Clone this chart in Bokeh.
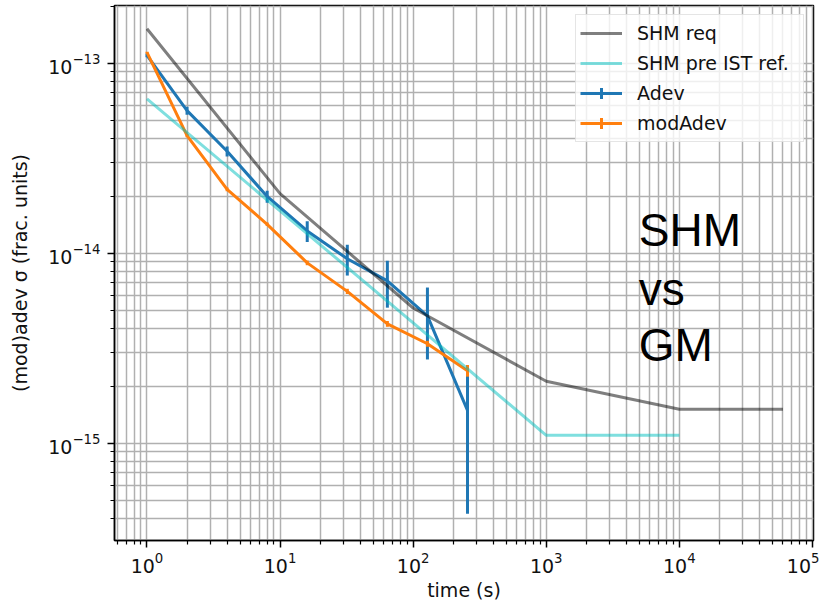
from bokeh.plotting import figure
from bokeh.models import FixedTicker, Legend, LegendItem, Label, Range1d
from bokeh.embed import file_html
from bokeh.resources import INLINE

# ---- data ----
tau = [1, 2, 4, 8, 16, 32, 64, 128, 256]
adev = [1.10e-13, 5.63e-14, 3.44e-14, 1.99e-14, 1.31e-14, 9.35e-15, 7.15e-15, 4.68e-15, 1.49e-15]
adev_err = [2.5e-15, 2.7e-15, 2.1e-15, 1.45e-15, 1.65e-15, 1.72e-15, 1.98e-15, 1.92e-15, 1.065e-15]
modadev = [1.14e-13, 4.16e-14, 2.17e-14, 1.42e-14, 8.9e-15, 6.3e-15, 4.25e-15, 3.34e-15, 2.41e-15]
modadev_err = [1.0e-15, 8e-16, 5e-16, 3e-16, 2.5e-16, 2e-16, 1.5e-16, 1.2e-16, 1.7e-16]

req_tau = [1, 10, 100, 1000, 10000, 60000]
shm_req = [1.52e-13, 2.06e-14, 5.15e-15, 2.12e-15, 1.51e-15, 1.51e-15]

pre_tau = [1, 10, 100, 1000, 10000]
shm_pre = [6.5e-14, 1.67e-14, 4.3e-15, 1.1e-15, 1.1e-15]

x_major = [1e0, 1e1, 1e2, 1e3, 1e4, 1e5]
y_major = [1e-16, 1e-15, 1e-14, 1e-13, 1e-12]
x_minor = [m * d for d in [1e-1, 1e0, 1e1, 1e2, 1e3, 1e4] for m in range(2, 10)]
y_minor = [m * d for d in [1e-16, 1e-15, 1e-14, 1e-13] for m in range(2, 10)]

BLUE = "#1f77b4"
ORANGE = "#ff7f0e"
FONT = "DejaVu Sans"
FS = "19px"

p = figure(width=819, height=603, x_axis_type="log", y_axis_type="log",
           x_range=Range1d(10 ** -0.244, 10 ** 5.008),
           y_range=Range1d(10 ** -15.512, 10 ** -12.696),
           output_backend="svg", toolbar_location=None,
           min_border_left=114, min_border_right=6, min_border_top=5, min_border_bottom=60)

p.background_fill_color = "white"
p.border_fill_color = "white"
p.outline_line_color = "black"
p.outline_line_width = 1.5

p.xaxis.ticker = FixedTicker(ticks=x_major, minor_ticks=x_minor)
p.yaxis.ticker = FixedTicker(ticks=y_major, minor_ticks=y_minor)

for ax in [p.xaxis[0], p.yaxis[0]]:
    ax.axis_line_color = "black"
    ax.axis_line_width = 1.5
    ax.major_tick_line_color = "black"
    ax.major_tick_line_width = 1.5
    ax.minor_tick_line_color = "black"
    ax.minor_tick_line_width = 1.2
    ax.major_tick_out = 7
    ax.major_tick_in = 0
    ax.minor_tick_out = 4
    ax.minor_tick_in = 0
    ax.major_label_text_font = FONT
    ax.major_label_text_font_size = FS
    ax.major_label_text_color = "#111111"
    ax.axis_label_text_font = FONT
    ax.axis_label_text_font_size = FS
    ax.axis_label_text_font_style = "normal"
    ax.axis_label_text_color = "#111111"

p.xaxis.axis_label = "time (s)"
p.yaxis.axis_label = "(mod)adev σ (frac. units)"
p.xaxis.major_label_standoff = 4
p.xaxis.axis_label_standoff = 3
p.yaxis.major_label_standoff = 7
p.yaxis.axis_label_standoff = 14

for g in [p.xgrid[0], p.ygrid[0]]:
    g.grid_line_color = "#b0b0b0"
    g.grid_line_width = 1.5
    g.minor_grid_line_color = "#b0b0b0"
    g.minor_grid_line_width = 1.5

# Adev with error bars
adev_lo = [v - e for v, e in zip(adev, adev_err)]
adev_hi = [v + e for v, e in zip(adev, adev_err)]
r_adev = p.line(tau, adev, line_color=BLUE, line_width=3)
p.segment(x0=tau, y0=adev_lo, x1=tau, y1=adev_hi, line_color=BLUE, line_width=3)
r_adev_x = p.scatter(tau, adev, marker="cross", size=0, line_color=BLUE, line_width=3)

# modAdev with error bars
mod_lo = [v - e for v, e in zip(modadev, modadev_err)]
mod_hi = [v + e for v, e in zip(modadev, modadev_err)]
r_mod = p.line(tau, modadev, line_color=ORANGE, line_width=3)
p.segment(x0=tau, y0=mod_lo, x1=tau, y1=mod_hi, line_color=ORANGE, line_width=3)
r_mod_x = p.scatter(tau, modadev, marker="cross", size=0, line_color=ORANGE, line_width=3)

# requirement curves (semi transparent, on top)
r_req = p.line(req_tau, shm_req, line_color="black", line_alpha=0.5, line_width=3)
r_pre = p.line(pre_tau, shm_pre, line_color="#00bfbf", line_alpha=0.5, line_width=3)

legend = Legend(items=[
    LegendItem(label="SHM req", renderers=[r_req]),
    LegendItem(label="SHM pre IST ref.", renderers=[r_pre]),
    LegendItem(label="Adev", renderers=[r_adev, r_adev_x]),
    LegendItem(label="modAdev", renderers=[r_mod, r_mod_x]),
], location="top_right")
legend.label_text_font = FONT
legend.label_text_font_size = FS
legend.label_text_color = "#111111"
legend.glyph_width = 42
legend.glyph_height = 28
legend.label_height = 28
legend.label_width = 162
legend.spacing = 2
legend.padding = 4
legend.margin = 9
legend.label_standoff = 15
legend.border_line_color = "#cccccc"
legend.border_line_width = 1.5
legend.background_fill_alpha = 0.8
p.add_layout(legend)

for txt, ly in [("SHM", 10 ** -13.877), ("vs", 10 ** -14.187), ("GM", 10 ** -14.482)]:
    p.add_layout(Label(x=10 ** 3.695, y=ly, text=txt, text_font="Liberation Sans",
                       text_font_size="46px", text_baseline="alphabetic", text_color="black"))

open("out.html", "w").write(file_html(p, INLINE))
